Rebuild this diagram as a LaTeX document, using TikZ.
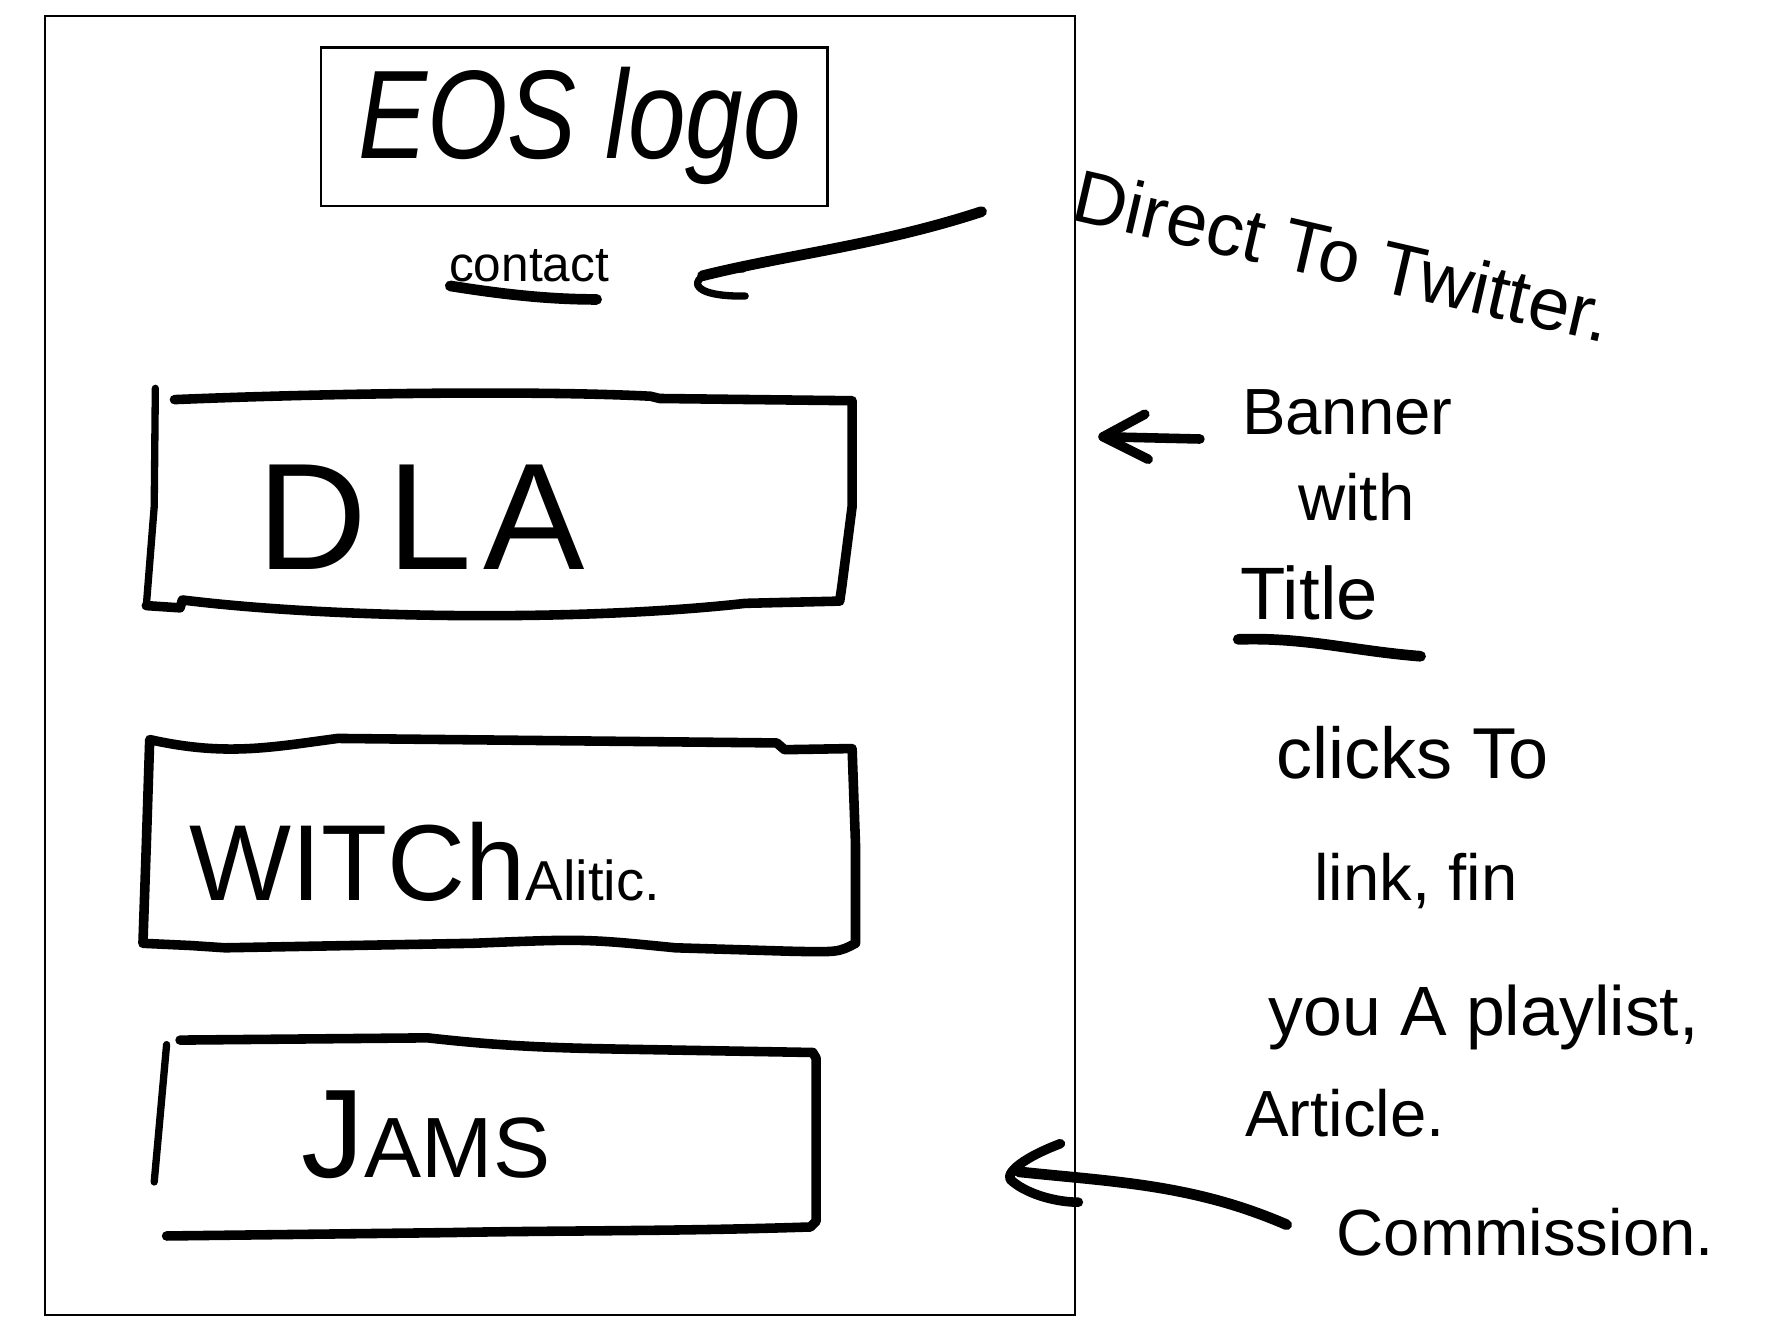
\documentclass[tikz,border=0pt]{standalone}
\usepackage{fontspec}
\usepackage{graphicx}
\setmainfont{Liberation Sans}
\tikzset{
  hand/.style={line width=8.5pt, line cap=round, line join=round},
  handthick/.style={line width=9.5pt, line cap=round, line join=round},
  handthin/.style={line width=6.5pt, line cap=round, line join=round},
  frame/.style={line width=2.2pt},
  note/.style={inner sep=0pt, font=\fontsize{58}{64}\selectfont},
}
\begin{document}
\begin{tikzpicture}[x=1pt,y=-1pt]
\useasboundingbox (0,0) rectangle (1568,1176);
\fill[white] (0,0) rectangle (1568,1176);

% outer page frame
\draw[frame] (40,14) rectangle (955,1168);

% logo
\node[draw, frame, minimum width=450pt, minimum height=141pt, inner sep=0pt] (logo) at (510,112.5) {};
\node[anchor=base, inner sep=0pt] (logotext) at (515,141) {\fontsize{112}{112}\selectfont\itshape\scalebox{0.82}[1]{EOS logo}};

% contact
\node[anchor=base, inner sep=0pt] (contact) at (470,250) {\fontsize{44}{44}\selectfont contact};
\draw[handthick] (400,254) .. controls (450,262) and (490,266) .. (530,266);
\coordinate (twstart) at (872,188);
\coordinate (twend) at (624,245);
\draw[handthick] (twstart) .. controls (780,218) and (700,226) .. (twend);
\draw[handthin] (660,239) .. controls (612,238) and (600,264) .. (662,263);

% DLA box
\draw[hand] (155,355) .. controls (300,349) and (480,347) .. (578,352) -- (586,354) -- (757,356) -- (757,450) -- (748,520) -- (746,534) -- (662,536) .. controls (520,552) and (300,550) .. (162,533) -- (160,540) -- (130,538);
\draw[handthin] (138,345) -- (137,450) -- (130,538);
\node[anchor=base, inner sep=0pt] (dla) at (374,506) {\fontsize{135}{135}\selectfont D\hspace{18pt}L\hspace{10pt}A};

% WITCHalitic box
\draw[hand] (133,657) .. controls (200,672) and (240,664) .. (300,656) -- (690,660) -- (697,666) -- (757,665) -- (760,750) -- (760,838) .. controls (745,846) .. (700,845) -- (600,842) .. controls (520,834) .. (420,838) -- (200,842) -- (170,840) -- (127,838) -- (130,750) -- cycle;
\node[anchor=base west, inner sep=0pt] (witch) at (168,800) {\fontsize{96}{96}\selectfont WITCh\fontsize{50}{50}\selectfont Alitic.};

% JAMS box
\draw[hand] (160,924) -- (380,922) .. controls (450,930) and (500,931) .. (550,932) -- (722,935) -- (725,940) -- (725,1085) -- (720,1090) .. controls (600,1094) and (500,1093) .. (400,1095) -- (148,1098);
\draw[handthin] (148,928) -- (137,1050);
\node[anchor=base west, inner sep=0pt] (jams) at (268,1046) {\fontsize{112}{112}\selectfont J\fontsize{76}{76}\selectfont AMS};

% notes on the right
\node[note, anchor=base west, rotate=-13, font=\fontsize{66}{66}\selectfont] (twitter) at (950,195) {Direct To Twitter.};

\node[note, anchor=base] (banner) at (1197,386) {Banner};
\node[note, anchor=base] (with) at (1205,462) {with};
\node[note, anchor=base, font=\fontsize{66}{66}\selectfont] (title) at (1163,550) {Title};
\draw[handthick] (1100,568) .. controls (1160,566) and (1200,578) .. (1262,583);
\coordinate (bannertail) at (1066,390);
\coordinate (bannerhead) at (980,388);
\draw[hand] (bannertail) -- (bannerhead);
\draw[hand] (1017,368) -- (980,388) -- (1020,408);

\node[note, anchor=base, font=\fontsize{64}{64}\selectfont] (clicks) at (1255,692) {clicks To};
\node[note, anchor=base] (link) at (1258,800) {link, fin};
\node[note, anchor=base, font=\fontsize{62}{62}\selectfont] (playlist) at (1318,920) {you A playlist,};
\node[note, anchor=base] (article) at (1195,1010) {Article.};
\node[note, anchor=base] (commission) at (1355,1115) {Commission.};

\coordinate (comtail) at (1143,1088);
\coordinate (comhead) at (905,1041);
\draw[handthick] (comtail) .. controls (1060,1052) and (990,1050) .. (comhead);
\draw[hand] (942,1016) .. controls (905,1030) and (890,1045) .. (900,1050) .. controls (915,1062) and (940,1068) .. (958,1068);
\end{tikzpicture}
\end{document}
